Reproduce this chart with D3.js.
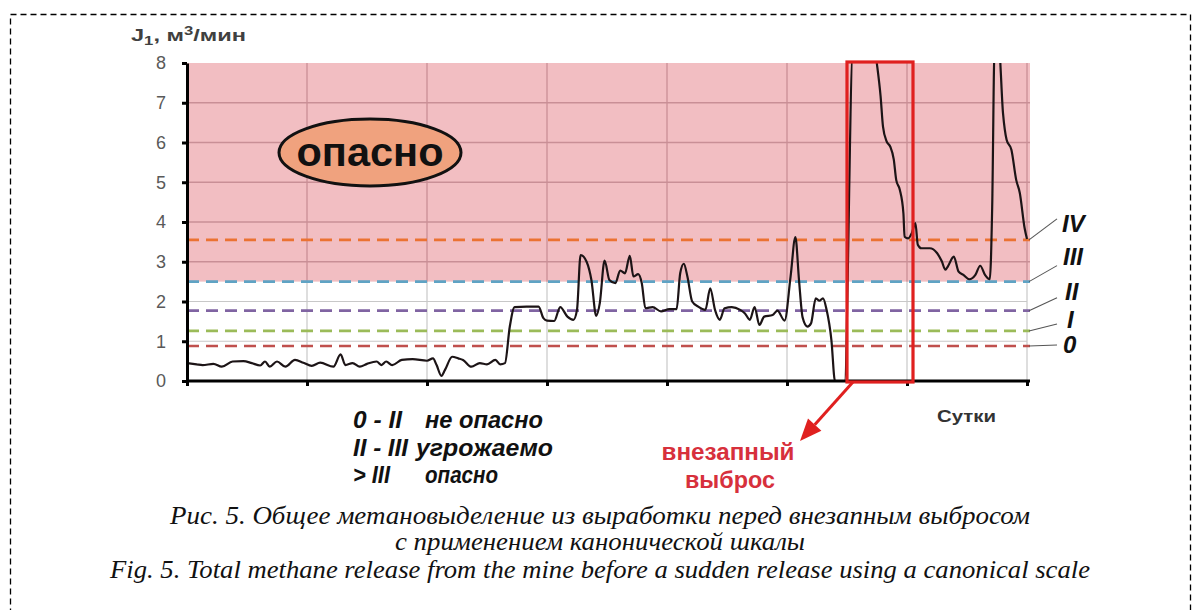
<!DOCTYPE html>
<html><head><meta charset="utf-8">
<script src="https://cdn.jsdelivr.net/npm/d3@7"></script>
<style>body{margin:0;background:#fff}</style>
</head><body>
<svg id="c" width="1203" height="610"></svg>
<script>
// ---- data ----
const timeDays = [0.00,0.08,0.13,0.22,0.29,0.38,0.47,0.54,0.61,0.65,0.69,0.75,0.82,0.90,0.97,1.04,1.11,1.22,1.28,1.32,1.38,1.44,1.50,1.58,1.62,1.66,1.71,1.79,1.88,2.00,2.05,2.08,2.12,2.15,2.21,2.26,2.30,2.37,2.44,2.50,2.57,2.61,2.65,2.69,2.73,2.83,2.93,2.97,3.00,3.06,3.11,3.17,3.22,3.25,3.28,3.33,3.37,3.41,3.44,3.48,3.52,3.57,3.61,3.65,3.69,3.72,3.76,3.79,3.82,3.88,3.95,4.02,4.08,4.11,4.14,4.17,4.21,4.26,4.32,4.36,4.40,4.44,4.48,4.54,4.61,4.65,4.69,4.73,4.77,4.81,4.88,4.92,4.98,5.03,5.07,5.10,5.13,5.17,5.20,5.24,5.27,5.30,5.33,5.37,5.40,5.48,5.55,5.73,5.75,5.78,5.80,5.83,5.86,5.89,5.91,5.94,5.97,5.98,6.01,6.04,6.07,6.09,6.12,6.19,6.25,6.29,6.32,6.34,6.39,6.43,6.47,6.52,6.57,6.61,6.65,6.69,6.71,6.73,6.765,6.80,6.83,6.87,6.91,6.94,6.98,7.00];
const methane = [0.45,0.42,0.40,0.43,0.36,0.49,0.50,0.45,0.39,0.49,0.36,0.49,0.36,0.53,0.46,0.38,0.46,0.36,0.67,0.40,0.45,0.36,0.43,0.49,0.40,0.49,0.40,0.53,0.55,0.51,0.57,0.40,0.13,0.28,0.61,0.57,0.53,0.36,0.45,0.42,0.53,0.42,0.45,1.37,1.86,1.87,1.87,1.58,1.52,1.51,1.86,1.62,1.54,1.79,3.17,3.00,2.54,1.64,1.96,3.03,2.54,2.46,2.78,2.71,3.15,2.63,2.69,2.46,1.83,1.86,1.75,1.81,1.81,2.71,2.95,2.63,2.00,1.87,1.79,2.33,1.79,1.54,1.83,1.86,1.79,1.70,1.54,1.86,1.41,1.62,1.66,1.77,1.52,2.63,3.62,2.54,1.60,1.37,1.45,2.08,2.02,2.08,1.79,1.03,0.00,0.00,8.4,8.4,7.96,7.16,6.40,6.03,5.90,5.57,5.06,4.81,4.22,3.63,3.59,3.72,3.97,3.43,3.34,3.34,3.22,3.01,2.80,2.88,3.13,2.75,2.67,2.56,2.67,2.90,2.67,2.56,4.39,8.4,8.4,6.74,6.07,5.82,5.06,4.73,3.85,3.57];
const yTickValues = [0,1,2,3,4,5,6,7,8];
const xTickValues = [0,1,2,3,4,5,6,7];
const levelNames = ["0","I","II","III","IV"];
const levelValues = [0.88,1.26,1.77,2.5,3.55];
const dangerFrom = 2.5;
const outburstFrom = 5.5, outburstTo = 6.05;
const legendRanges = ["0 - II","II - III","> III"];
const legendMeanings = ["не опасно","угрожаемо","опасно"];
const captionLines = [
  "Рис. 5. Общее метановыделение из выработки перед внезапным выбросом",
  "с применением канонической шкалы",
  "Fig. 5. Total methane release from the mine before a sudden release using a canonical scale"
];

// ---- styles ----
const levelColors = ["#C0504D","#9BBB59","#8064A2","#5FA3C4","#EB7232"];
const RED = "#E0201F";

const svg = d3.select("#c");
const x = d3.scaleLinear().domain([0,7]).range([187,1027]);
const y = d3.scaleLinear().domain([0,8]).range([381,63]);

// dashed outer border
svg.append("rect").attr("x",10.5).attr("y",14.5).attr("width",1180).attr("height",700)
  .attr("fill","none").attr("stroke","#000").attr("stroke-width",1.3).attr("stroke-dasharray","6,4");

// grid (white zone)
const g = svg.append("g");
g.selectAll(".hg").data(yTickValues.filter(d=>d>0 && d<dangerFrom)).join("line")
  .attr("x1",x(0)).attr("x2",x(7)).attr("y1",d=>y(d)).attr("y2",d=>y(d))
  .attr("stroke","#c8c8c8").attr("stroke-width",1.2);
g.selectAll(".vg").data(xTickValues.filter(d=>d>0)).join("line")
  .attr("x1",d=>x(d)).attr("x2",d=>x(d)).attr("y1",y(dangerFrom)).attr("y2",y(0))
  .attr("stroke","#c8c8c8").attr("stroke-width",1.2);

// danger zone
svg.append("rect").attr("x",x(0)).attr("y",y(8)).attr("width",x(7)-x(0)+3)
  .attr("height",y(dangerFrom)-y(8)).attr("fill","rgb(222,92,102)").attr("opacity",0.4);

// grid (danger zone)
const g2 = svg.append("g");
g2.selectAll(".hg2").data(yTickValues.filter(d=>d>dangerFrom && d<8)).join("line")
  .attr("x1",x(0)).attr("x2",x(7)+3).attr("y1",d=>y(d)).attr("y2",d=>y(d))
  .attr("stroke","#c98f96").attr("stroke-width",1.3);
g2.selectAll(".vg2").data(xTickValues.filter(d=>d>0)).join("line")
  .attr("x1",d=>x(d)).attr("x2",d=>x(d)).attr("y1",y(8)).attr("y2",y(dangerFrom))
  .attr("stroke","#c98f96").attr("stroke-width",1.3);

// level dashed lines
svg.selectAll(".lvl").data(levelValues).join("line")
  .attr("x1",x(0)).attr("x2",x(7)+3).attr("y1",d=>y(d)).attr("y2",d=>y(d))
  .attr("stroke",(d,i)=>levelColors[i]).attr("stroke-width",2.6).attr("stroke-dasharray","12,7");

// series line
svg.append("clipPath").attr("id","clip").append("rect")
  .attr("x",x(0)).attr("y",y(8)).attr("width",x(7)-x(0)+4).attr("height",y(0)-y(8)+2);
const pts = timeDays.map((t,i)=>[t,methane[i]]);
svg.append("path").datum(pts).attr("clip-path","url(#clip)")
  .attr("d",d3.line().x(d=>x(d[0])).y(d=>y(d[1])).curve(d3.curveMonotoneX))
  .attr("fill","none").attr("stroke","#1c1416").attr("stroke-width",2.2);

// axes
const ya = svg.append("g").attr("transform",`translate(${x(0)},0)`)
  .call(d3.axisLeft(y).tickValues(yTickValues).tickSize(5).tickSizeOuter(0).tickPadding(16));
ya.select(".domain").attr("stroke","#000").attr("stroke-width",3);
ya.selectAll(".tick line").attr("stroke","#000").attr("stroke-width",3);
ya.selectAll("text").attr("font-family","Liberation Sans, Arial, sans-serif").attr("font-size",18).attr("fill","#595959");

const xa = svg.append("g").attr("transform",`translate(0,${y(0)})`)
  .call(d3.axisBottom(x).tickValues(xTickValues).tickSize(5).tickSizeOuter(0).tickFormat(""));
xa.select(".domain").attr("stroke","#000").attr("stroke-width",3).attr("d",`M${x(0)-1},0H${x(7)+3}`);
xa.selectAll(".tick line").attr("stroke","#000").attr("stroke-width",3);

// outburst box
svg.append("rect").attr("x",x(outburstFrom)).attr("y",y(8)-1)
  .attr("width",x(outburstTo)-x(outburstFrom)).attr("height",y(0)-y(8)+2)
  .attr("fill","none").attr("stroke",RED).attr("stroke-width",3.2);

// arrow
const ax0 = x(outburstFrom)+6, ay0 = y(0)+1, ax1 = ax0-53, ay1 = ay0+59;
const ang = Math.atan2(ay1-ay0, ax1-ax0);
const hl = 22, hw = 9;
const bx = ax1 - hl*Math.cos(ang), by = ay1 - hl*Math.sin(ang);
svg.append("line").attr("x1",ax0).attr("y1",ay0).attr("x2",bx).attr("y2",by)
  .attr("stroke",RED).attr("stroke-width",3);
svg.append("polygon").attr("points",[
  [ax1,ay1],
  [bx + hw*Math.sin(ang), by - hw*Math.cos(ang)],
  [bx - hw*Math.sin(ang), by + hw*Math.cos(ang)]
].map(p=>p.join(",")).join(" ")).attr("fill",RED);

// texts
const T = (sel, txt, px, py, opt) => {
  const t = sel.append("text").attr("x",px).attr("y",py).text(txt)
    .attr("font-family",opt.ff||"Liberation Sans, Arial, sans-serif")
    .attr("font-size",opt.fs).attr("fill",opt.fill||"#000")
    .attr("font-weight",opt.fw||"normal").attr("font-style",opt.fst||"normal");
  if (opt.anchor) t.attr("text-anchor",opt.anchor);
  if (opt.len) t.attr("textLength",opt.len).attr("lengthAdjust","spacingAndGlyphs");
  return t;
};

// y axis title
const yt = svg.append("text").attr("x",131).attr("y",41)
  .attr("font-family","Liberation Sans, Arial, sans-serif").attr("font-size",17)
  .attr("font-weight","bold").attr("fill","#404040")
  .attr("textLength",115).attr("lengthAdjust","spacingAndGlyphs");
yt.append("tspan").text("J");
yt.append("tspan").text("1").attr("font-size",12).attr("dy",4);
yt.append("tspan").text(", м").attr("dy",-4);
yt.append("tspan").text("3").attr("font-size",12).attr("dy",-6);
yt.append("tspan").text("/мин").attr("dy",6);

// "опасно" ellipse
svg.append("ellipse").attr("cx",370).attr("cy",152.5).attr("rx",91).attr("ry",33.5)
  .attr("fill","#F0A27E").attr("stroke","#111").attr("stroke-width",3);
T(svg,"опасно",370,166,{fs:40,fw:"bold",anchor:"middle",len:147,fill:"#111"});

// level labels with leader lines
const lblX = [1063,1067,1065,1063,1062];
const lblDy = [7,-3,-11,-17,-8];
const leadDy = [-1,-7,-13,-16,-21];
levelValues.forEach((v,i)=>{
  svg.append("line").attr("x1",x(7)+2).attr("y1",y(v)).attr("x2",1057).attr("y2",y(v)+leadDy[i])
    .attr("stroke","#555").attr("stroke-width",1.1);
  T(svg,levelNames[i],lblX[i],y(v)+lblDy[i],{fs:24,fw:"bold",fst:"italic",fill:"#111"});
});

// Сутки
T(svg,"Сутки",937,422,{fs:16,fw:"bold",fill:"#333",len:59});

// legend
const legLenA = [49,55,37], legLenB = [118,137,73];
legendRanges.forEach((r,i)=>{
  const by0 = 428 + i*27.5;
  T(svg,r,353,by0,{fs:23,fw:"bold",fst:"italic",fill:"#111",len:legLenA[i]});
  T(svg,legendMeanings[i], i===1?416:425, by0,{fs:23,fw:"bold",fst:"italic",fill:"#111",len:legLenB[i]});
});

// внезапный выброс
T(svg,"внезапный",728,460,{fs:23,fw:"bold",fill:"#D7303C",anchor:"middle",len:133});
T(svg,"выброс",730,488,{fs:23,fw:"bold",fill:"#D7303C",anchor:"middle",len:90});

// caption
const capY = [524,550,578], capLen = [860,410,980];
captionLines.forEach((c,i)=>{
  T(svg,c,600,capY[i],{ff:"Liberation Serif, Times New Roman, serif",fs:25,fst:"italic",anchor:"middle",len:capLen[i],fill:"#111"});
});
</script>
</body></html>
